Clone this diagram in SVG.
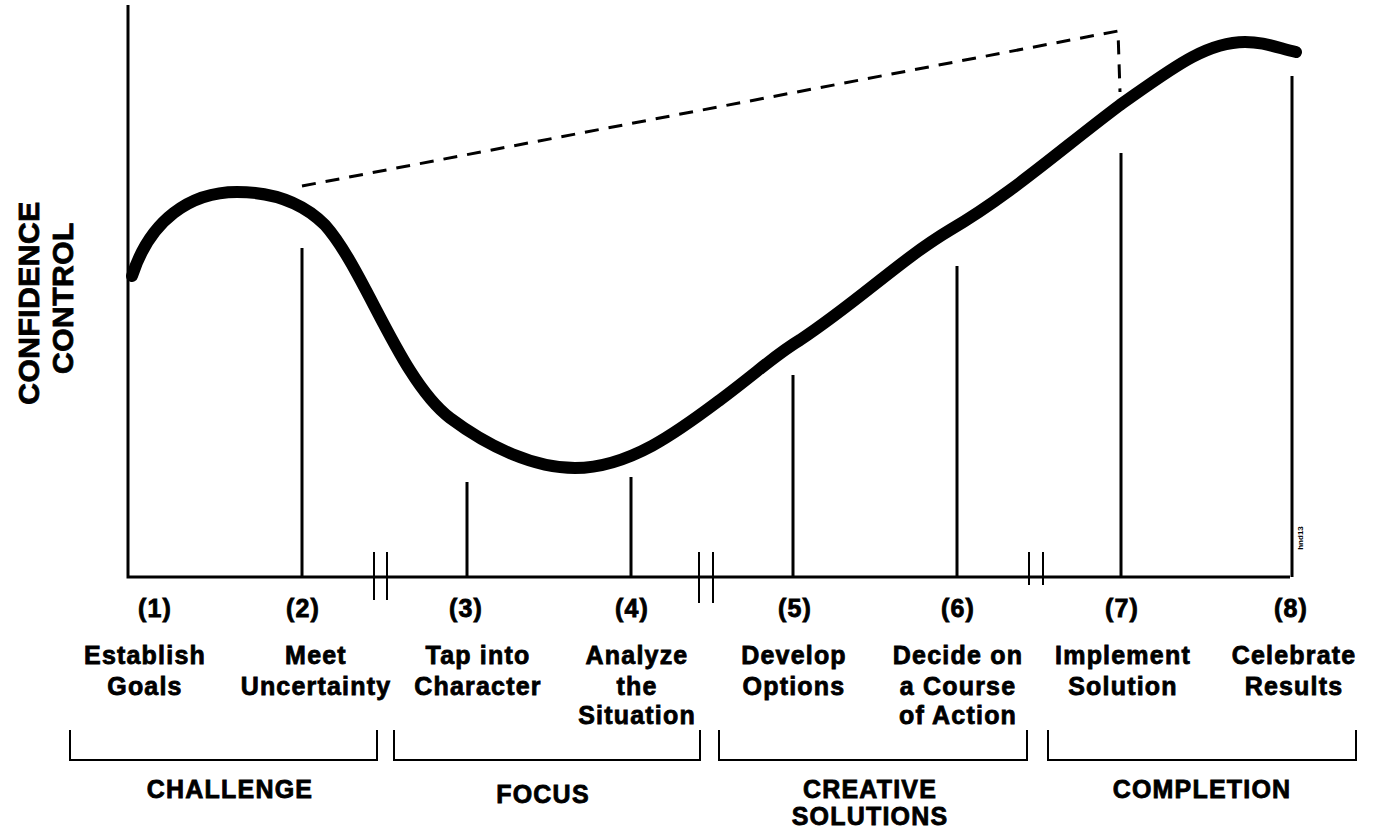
<svg xmlns="http://www.w3.org/2000/svg" width="1373" height="830" viewBox="0 0 1373 830">
<style>
.t{font-family:"Liberation Sans",Arial,sans-serif;font-weight:bold;font-size:25px;letter-spacing:1.2px;text-anchor:middle;fill:#000;stroke:#000;stroke-width:0.8px}
.y{font-size:30px;letter-spacing:0.5px}
.ax{stroke:#000;stroke-width:3;fill:none}
.tk{stroke:#000;stroke-width:3;fill:none}
.br{stroke:#000;stroke-width:2;fill:none}
</style>
<rect width="1373" height="830" fill="#fff"/>
<g id="axes">
<path class="ax" d="M128,5 V577 H1290"/>
</g>
<g id="connectors">
<path id="curve" d="M132,276 C150,220 190,192 237,192 C270,192 300,200 325,225 C365,270 400,380 450,418 C490,448 535,468 575,468 C630,468 680,430 720,400 C760,370 775,355 800,340 C860,300 900,260 950,230 C1010,195 1060,150 1120,105 C1170,70 1205,42 1245,42 C1262,42 1272,46 1296,52" fill="none" stroke="#000" stroke-width="12" stroke-linecap="round"/>
<path id="dash" d="M302,186 L1118,31 L1120,92" fill="none" stroke="#000" stroke-width="3" stroke-dasharray="14,10"/>
<path class="tk" d="M302,248 V577 M467,482 V577 M631,477 V577 M793,375 V577 M957,266 V577 M1121,153 V577 M1292,76 V577"/>
<path class="br" d="M374,552 V600 M387,552 V600 M699,552 V603 M713,552 V603 M1029,552 V585 M1043,552 V585"/>
</g>
<g id="ylabel">
<text class="t y" transform="translate(39,303) rotate(-90)">CONFIDENCE</text>
<text class="t y" transform="translate(73,298) rotate(-90)">CONTROL</text>
<text class="t" style="font-size:8px;letter-spacing:0;stroke-width:0" transform="translate(1303,538) rotate(-90)">hnd13</text>
</g>
<g id="step1"><text class="t" x="155" y="617">(1)</text><text class="t" x="145" y="664">Establish</text><text class="t" x="145" y="695">Goals</text></g>
<g id="step2"><text class="t" x="303" y="617">(2)</text><text class="t" x="316" y="664">Meet</text><text class="t" x="316" y="695">Uncertainty</text></g>
<g id="step3"><text class="t" x="466" y="617">(3)</text><text class="t" x="478" y="664">Tap into</text><text class="t" x="478" y="695">Character</text></g>
<g id="step4"><text class="t" x="632" y="617">(4)</text><text class="t" x="637" y="664">Analyze</text><text class="t" x="637" y="695">the</text><text class="t" x="637" y="724">Situation</text></g>
<g id="step5"><text class="t" x="795" y="617">(5)</text><text class="t" x="794" y="664">Develop</text><text class="t" x="794" y="695">Options</text></g>
<g id="step6"><text class="t" x="958" y="617">(6)</text><text class="t" x="958" y="664">Decide on</text><text class="t" x="958" y="695">a Course</text><text class="t" x="958" y="724">of Action</text></g>
<g id="step7"><text class="t" x="1122" y="617">(7)</text><text class="t" x="1123" y="664">Implement</text><text class="t" x="1123" y="695">Solution</text></g>
<g id="step8"><text class="t" x="1291" y="617">(8)</text><text class="t" x="1294" y="664">Celebrate</text><text class="t" x="1294" y="695">Results</text></g>
<g id="challenge"><path class="br" d="M70,730 V760 H377 V730"/><text class="t" x="230" y="798">CHALLENGE</text></g>
<g id="focus"><path class="br" d="M394,730 V760 H700 V730"/><text class="t" x="543" y="803">FOCUS</text></g>
<g id="creative"><path class="br" d="M719,730 V760 H1027 V730"/><text class="t" x="870" y="798">CREATIVE</text><text class="t" x="870" y="825">SOLUTIONS</text></g>
<g id="completion"><path class="br" d="M1048,730 V760 H1356 V730"/><text class="t" x="1202" y="798">COMPLETION</text></g>
</svg>
